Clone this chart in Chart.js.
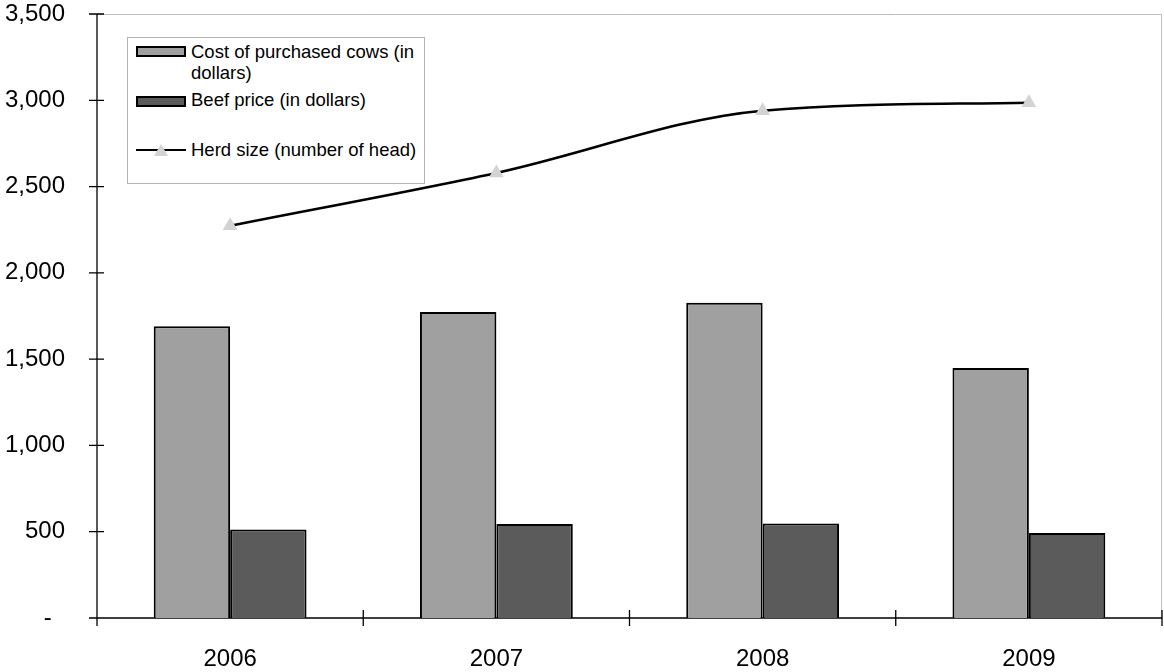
<!DOCTYPE html>
<html>
<head>
<meta charset="UTF-8">
<title>Herd size and prices</title>
<script src="https://cdn.jsdelivr.net/npm/chart.js@4.4.0/dist/chart.umd.min.js"></script>
<style>
    body { margin: 0; background: #fff; }
    #wrap { position: relative; width: 1164px; height: 672px; font-family: "Liberation Sans", Arial, sans-serif; }
    .lg-box { position: absolute; left: 127px; top: 37px; width: 298px; height: 147px; border: 1px solid #b4b4b4; box-sizing: border-box; background: #fff; }
    .sw { position: absolute; left: 136px; width: 50px; height: 11px; border: 2px solid #000; box-sizing: border-box; }
    .lg-text { position: absolute; left: 191px; font-size: 18.5px; line-height: 21px; color: #000; white-space: nowrap; }
    .lg-line { position: absolute; left: 136px; top: 149px; width: 50px; height: 2px; background: #000; }
    .lg-tri { position: absolute; left: 154px; top: 144px; width: 0; height: 0; border-left: 7px solid transparent; border-right: 7px solid transparent; border-bottom: 12px solid #d3d3d3; }
</style>
</head>
<body>
<div id="wrap">
    <canvas id="chart" width="1164" height="672"></canvas>
    <div class="lg-box"></div>
    <div class="sw" style="top:46px; background:#a0a0a0"></div>
    <div class="lg-text" style="top:41px">Cost of purchased cows (in<br>dollars)</div>
    <div class="sw" style="top:96px; background:#5b5b5b"></div>
    <div class="lg-text" style="top:89px">Beef price (in dollars)</div>
    <div class="lg-line"></div>
    <div class="lg-tri"></div>
    <div class="lg-text" style="top:139px">Herd size (number of head)</div>
</div>
<script>
    // values
    var years = ['2006', '2007', '2008', '2009'];
    var cowCost = [1690, 1773, 1827, 1449];
    var beefPrice = [513, 545, 548, 493];
    var herdSize = [2273, 2579, 2940, 2986];
    var yTicks = [0, 500, 1000, 1500, 2000, 2500, 3000, 3500];

    // Excel-style frame: gray box, black axes, tick marks crossing the axes
    var framePlugin = {
        id: 'frame',
        beforeDatasetsDraw: function (chart) {
            var ctx = chart.ctx;
            var a = chart.chartArea;
            var x = chart.scales.x;
            var y = chart.scales.y;
            ctx.save();
            ctx.strokeStyle = '#bdbdbd';
            ctx.lineWidth = 1;
            ctx.beginPath();
            ctx.moveTo(a.left, a.top + 0.5);
            ctx.lineTo(a.right - 0.5, a.top + 0.5);
            ctx.lineTo(a.right - 0.5, a.bottom);
            ctx.stroke();

            ctx.strokeStyle = '#000';
            ctx.lineWidth = 1.3;
            ctx.beginPath();
            ctx.moveTo(a.left, a.top);
            ctx.lineTo(a.left, a.bottom);
            ctx.moveTo(a.left - 8, a.bottom);
            ctx.lineTo(a.right, a.bottom);
            yTicks.forEach(function (v) {
                var py = y.getPixelForValue(v);
                ctx.moveTo(a.left - 8, py);
                ctx.lineTo(a.left + 7, py);
            });
            for (var i = 0; i <= years.length; i++) {
                var px = x.getPixelForValue(i - 0.5);
                ctx.moveTo(px, a.bottom - 8);
                ctx.lineTo(px, a.bottom + 8);
            }
            ctx.stroke();
            ctx.restore();
        }
    };

    var ctx = document.getElementById('chart').getContext('2d');
    var chart = new Chart(ctx, {
        type: 'bar',
        data: {
            labels: years,
            datasets: [{
                type: 'line',
                label: 'Herd size (number of head)',
                data: herdSize,
                borderColor: '#000',
                borderWidth: 2.5,
                cubicInterpolationMode: 'monotone',
                pointStyle: 'triangle',
                pointRadius: 8.5,
                pointBackgroundColor: '#d3d3d3',
                pointBorderWidth: 0,
                order: 0
            }, {
                label: 'Cost of purchased cows (in dollars)',
                data: cowCost,
                backgroundColor: '#a0a0a0',
                borderColor: '#000',
                borderWidth: 2,
                order: 1
            }, {
                label: 'Beef price (in dollars)',
                data: beefPrice,
                backgroundColor: '#5b5b5b',
                borderColor: '#000',
                borderWidth: 2,
                order: 2
            }]
        },
        options: {
            responsive: false,
            animation: false,
            layout: { autoPadding: false, padding: { top: 14, right: 2, left: 0, bottom: 0 } },
            datasets: {
                bar: { categoryPercentage: 0.574, barPercentage: 1 }
            },
            plugins: {
                legend: { display: false },
                tooltip: { enabled: false }
            },
            scales: {
                x: {
                    offset: true,
                    grid: { display: false, drawTicks: false },
                    border: { display: false },
                    ticks: {
                        color: '#000',
                        padding: 27,
                        font: { family: 'Liberation Sans', size: 24 }
                    },
                    afterFit: function (s) {
                        s.height = 54;
                        s.paddingLeft = 0;
                        s.paddingRight = 0;
                    }
                },
                y: {
                    min: 0,
                    max: 3500,
                    grid: { display: false, drawTicks: false },
                    border: { display: false },
                    afterBuildTicks: function (s) {
                        s.ticks = yTicks.map(function (v) { return { value: v }; });
                    },
                    ticks: {
                        color: '#000',
                        padding: 32,
                        font: { family: 'Liberation Sans', size: 24 },
                        callback: function (v) {
                            return v === 0 ? '-  ' : v.toLocaleString('en-US');
                        }
                    },
                    afterFit: function (s) {
                        s.width = 97;
                        s.paddingTop = 0;
                        s.paddingBottom = 0;
                    }
                }
            }
        },
        plugins: [framePlugin]
    });
</script>
</body>
</html>
